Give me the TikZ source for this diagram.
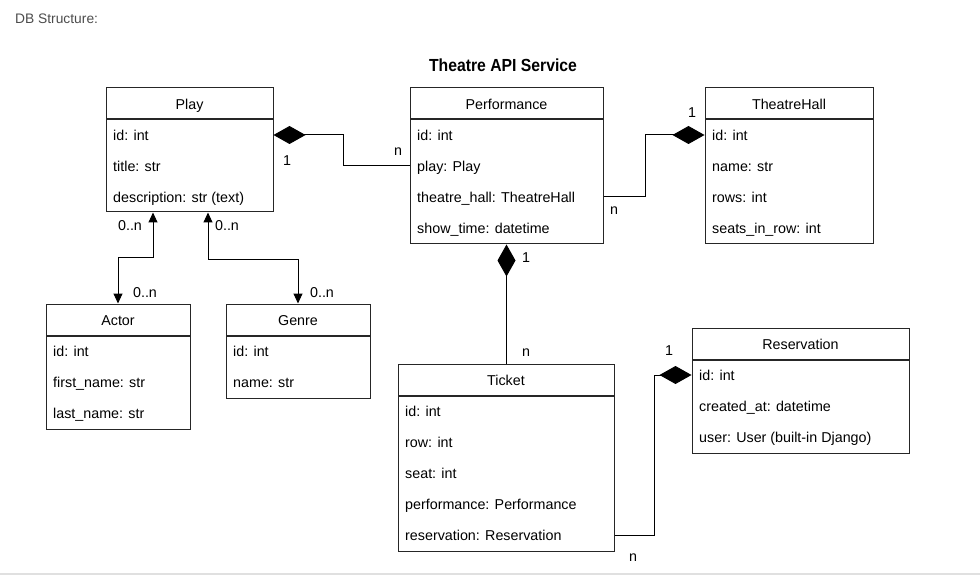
\documentclass[tikz,border=0pt]{standalone}
\usepackage{fontspec}
\setmainfont{Liberation Sans}
\usetikzlibrary{arrows.meta}

\tikzset{
  cls/.style={draw=black!85, line width=1pt, inner sep=0pt, fill=white, text height=12.5pt, text depth=1pt},
  attr/.style={anchor=west, inner sep=0pt, text height=12.5pt, text depth=1pt},
  link/.style={draw=black, line width=1pt},
  mult/.style={inner sep=0pt, text height=10.5pt, text depth=0pt},
  dia/.tip={Diamond[length=32pt,width=18pt]},
  arr/.tip={Triangle[length=10pt,width=9pt]},
}

\begin{document}
\begin{tikzpicture}[x=1pt, y=-1pt, font=\fontsize{14.3}{17}\selectfont]
\useasboundingbox (0,0) rectangle (980,580);
\draw [black!12, line width=1.5pt] (0,574) -- (980,574);
%% titles
\node [anchor=west, inner sep=0pt, text=black!70, font=\fontsize{13.8}{16}\selectfont] (dbtitle) at (15,19) {DB Structure:};
\node [inner sep=0pt] (title) at (503,65) {\scalebox{0.9}[1]{\bfseries\fontsize{17.5}{20}\selectfont Theatre API Service}};
%% Play
\node [cls, minimum width=167pt, minimum height=31pt] (play) at (189.5,103.5) {Play};
\node [cls, minimum width=167pt, minimum height=92pt, anchor=north] (playbody) at (play.south) {};
\foreach \t [count=\i] in {id: int, title: str, description: str (text)}
  \node [attr] (playrow\i) at (113, 104+31*\i) {\t};
%% Performance
\node [cls, minimum width=193pt, minimum height=31pt] (perf) at (506.5,103.5) {Performance};
\node [cls, minimum width=193pt, minimum height=124pt, anchor=north] (perfbody) at (perf.south) {};
\foreach \t [count=\i] in {id: int, play: Play, theatre\_hall: TheatreHall, show\_time: datetime}
  \node [attr] (perfrow\i) at (417, 104+31*\i) {\t};
%% TheatreHall
\node [cls, minimum width=168pt, minimum height=31pt] (hall) at (789,103.5) {TheatreHall};
\node [cls, minimum width=168pt, minimum height=124pt, anchor=north] (hallbody) at (hall.south) {};
\foreach \t [count=\i] in {id: int, name: str, rows: int, seats\_in\_row: int}
  \node [attr] (hallrow\i) at (712, 104+31*\i) {\t};
%% Actor
\node [cls, minimum width=144pt, minimum height=31pt] (actor) at (118,319.5) {Actor};
\node [cls, minimum width=144pt, minimum height=93pt, anchor=north] (actorbody) at (actor.south) {};
\foreach \t [count=\i] in {id: int, first\_name: str, last\_name: str}
  \node [attr] (actorrow\i) at (53, 320+31*\i) {\t};
%% Genre
\node [cls, minimum width=144pt, minimum height=31pt] (genre) at (298,319.5) {Genre};
\node [cls, minimum width=144pt, minimum height=62pt, anchor=north] (genrebody) at (genre.south) {};
\foreach \t [count=\i] in {id: int, name: str}
  \node [attr] (genrerow\i) at (233, 320+31*\i) {\t};
%% Ticket
\node [cls, minimum width=216pt, minimum height=31pt] (ticket) at (506,379.5) {Ticket};
\node [cls, minimum width=216pt, minimum height=155pt, anchor=north] (ticketbody) at (ticket.south) {};
\foreach \t [count=\i] in {id: int, row: int, seat: int, performance: Performance, reservation: Reservation}
  \node [attr] (ticketrow\i) at (405, 380+31*\i) {\t};
%% Reservation
\node [cls, minimum width=217pt, minimum height=31pt] (res) at (800.5,343.5) {Reservation};
\node [cls, minimum width=217pt, minimum height=93pt, anchor=north] (resbody) at (res.south) {};
\foreach \t [count=\i] in {id: int, created\_at: datetime, user: User (built-in Django)}
  \node [attr] (resrow\i) at (699, 344+31*\i) {\t};
%% connectors
\draw [link, dia-] (playrow1 -| playbody.east) -- ++(70,0) |- (perfrow2 -| perfbody.west);
\draw [link, -dia] (perfrow3 -| perfbody.east) -- ++(42,0) |- (hallrow1 -| hallbody.west);
\draw [link, dia-] (perfbody.south) -- (perfbody.south |- ticket.north);
\draw [link, -dia] (ticketrow5 -| ticketbody.east) -- ++(40,0) |- (resrow1 -| resbody.west);
\draw [link, arr-arr] ([xshift=-36.5pt]playbody.south) -- ++(0,45) -| (actor.north);
\draw [link, arr-arr] ([xshift=18.5pt]playbody.south) -- ++(0,47) -| (genre.north);
%% multiplicities
\node [mult] (m1) at (287,160) {1};
\node [mult] (m2) at (398,150) {n};
\node [mult] (m3) at (614,209) {n};
\node [mult] (m4) at (692,112) {1};
\node [mult] (m5) at (526,257) {1};
\node [mult] (m6) at (526,351) {n};
\node [mult] (m7) at (669,350) {1};
\node [mult] (m8) at (633,556) {n};
\node [mult] (m9) at (130,225) {0..n};
\node [mult] (m10) at (145,292) {0..n};
\node [mult] (m11) at (227,225) {0..n};
\node [mult] (m12) at (322,292) {0..n};
\end{tikzpicture}
\end{document}
